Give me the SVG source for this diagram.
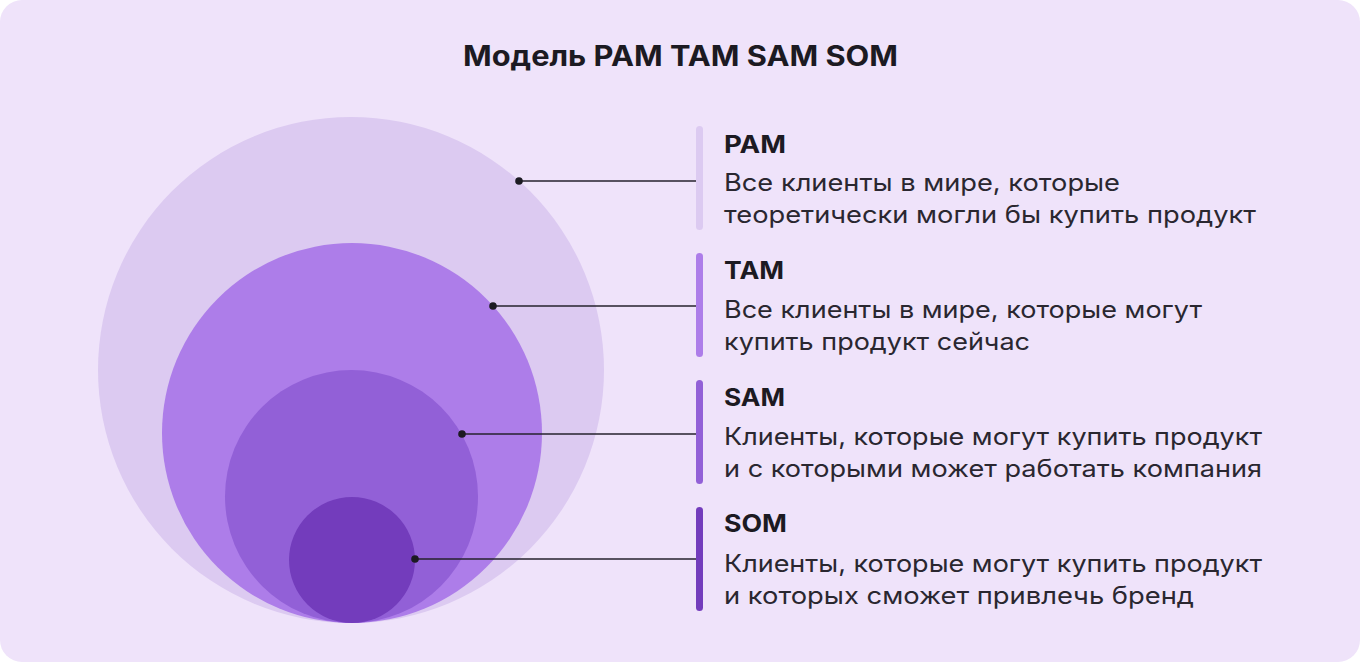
<svg xmlns="http://www.w3.org/2000/svg" width="1360" height="662" viewBox="0 0 1360 662">
<style>
.title{font-family:Inter,"Noto Sans",sans-serif;font-weight:700;font-size:28px;fill:#1c1a22}
.head{font-family:Inter,"Noto Sans",sans-serif;font-weight:700;font-size:24px;fill:#1c1a22}
.body{font-family:Inter,"Noto Sans",sans-serif;font-weight:400;font-size:24px;fill:#2a2730}
.conn{stroke:#26222c;stroke-width:1.6;fill:none}
.dot{fill:#1c1a22}
</style>
<rect x="0" y="0" width="1360" height="662" fill="#ffffff"/>
<rect x="0" y="0" width="1360" height="662" rx="22" fill="#efe3fa"/>
<text class="title" x="463" y="66" textLength="435" lengthAdjust="spacingAndGlyphs">Модель PAM TAM SAM SOM</text>
<g id="circle-pam"><circle cx="351" cy="370" r="253" fill="#dccaf1"/></g>
<g id="circle-tam"><circle cx="352" cy="433" r="190" fill="#ad7de9"/></g>
<g id="circle-sam"><circle cx="351.5" cy="496.5" r="126.5" fill="#9260d7"/></g>
<g id="circle-som"><circle cx="352" cy="560" r="63" fill="#733cbc"/></g>
<g id="connectors">
<line class="conn" x1="519" y1="181" x2="697" y2="181"/>
<circle class="dot" cx="519" cy="181" r="3.8"/>
<line class="conn" x1="493" y1="306" x2="697" y2="306"/>
<circle class="dot" cx="493" cy="306" r="3.8"/>
<line class="conn" x1="462" y1="434" x2="697" y2="434"/>
<circle class="dot" cx="462" cy="434" r="3.8"/>
<line class="conn" x1="415" y1="559" x2="697" y2="559"/>
<circle class="dot" cx="415" cy="559" r="3.8"/>
</g>
<g id="label-pam">
<rect x="696" y="126" width="7" height="104" rx="3.5" fill="#dccaf1"/>
<text class="head" x="724" y="153" textLength="62" lengthAdjust="spacingAndGlyphs">PAM</text>
<text class="body" x="724" y="191" textLength="396" lengthAdjust="spacingAndGlyphs">Все клиенты в мире, которые</text>
<text class="body" x="724" y="223" textLength="532" lengthAdjust="spacingAndGlyphs">теоретически могли бы купить продукт</text>
</g>
<g id="label-tam">
<rect x="696" y="253" width="7" height="104" rx="3.5" fill="#ad7de9"/>
<text class="head" x="724" y="279" textLength="60" lengthAdjust="spacingAndGlyphs">TAM</text>
<text class="body" x="724" y="318" textLength="478" lengthAdjust="spacingAndGlyphs">Все клиенты в мире, которые могут</text>
<text class="body" x="724" y="350" textLength="306" lengthAdjust="spacingAndGlyphs">купить продукт сейчас</text>
</g>
<g id="label-sam">
<rect x="696" y="380" width="7" height="104" rx="3.5" fill="#9260d7"/>
<text class="head" x="724" y="406" textLength="61" lengthAdjust="spacingAndGlyphs">SAM</text>
<text class="body" x="724" y="445" textLength="538" lengthAdjust="spacingAndGlyphs">Клиенты, которые могут купить продукт</text>
<text class="body" x="724" y="477" textLength="538" lengthAdjust="spacingAndGlyphs">и с которыми может работать компания</text>
</g>
<g id="label-som">
<rect x="696" y="507" width="7" height="104" rx="3.5" fill="#733cbc"/>
<text class="head" x="724" y="532" textLength="63" lengthAdjust="spacingAndGlyphs">SOM</text>
<text class="body" x="724" y="572" textLength="538" lengthAdjust="spacingAndGlyphs">Клиенты, которые могут купить продукт</text>
<text class="body" x="724" y="604" textLength="470" lengthAdjust="spacingAndGlyphs">и которых сможет привлечь бренд</text>
</g>
</svg>
